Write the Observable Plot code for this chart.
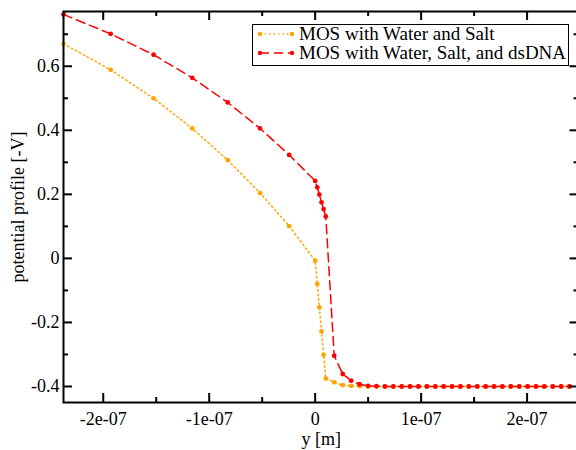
<!DOCTYPE html>
<html>
<head>
<meta charset="utf-8">
<script src="https://cdn.jsdelivr.net/npm/d3@7"></script>
<script src="https://cdn.jsdelivr.net/npm/@observablehq/plot@0.6"></script>
<style>
  html, body { margin: 0; padding: 0; background: white; }
  #wrap { position: relative; width: 576px; height: 450px; overflow: hidden; font-family: "Liberation Serif", serif; }
  #legend { position: absolute; left: 252px; top: 24px; width: 315px; height: 40px; border: 1.5px solid black; background: white; box-sizing: content-box; }
  .row { position: absolute; left: 0; height: 20px; display: flex; align-items: center; font-size: 19px; white-space: nowrap; color: black; }
  .row svg { margin-left: 4px; margin-right: 4px; }
</style>
</head>
<body>
<div id="wrap"><div id="legend"></div></div>
<script>
// Mesh (y [m])
const yPos = [-2.375e-7, -1.93e-7, -1.525e-7, -1.16e-7, -0.825e-7, -0.52e-7, -0.245e-7, 0,
  0.02e-7, 0.04e-7, 0.06e-7, 0.08e-7, 0.10e-7,
  0.18e-7, 0.26e-7, 0.34e-7, 0.42e-7,
  0.500e-7, 0.579e-7, 0.658e-7, 0.738e-7, 0.817e-7, 0.896e-7, 0.975e-7, 1.054e-7, 1.134e-7, 1.213e-7,
  1.292e-7, 1.371e-7, 1.450e-7, 1.530e-7, 1.609e-7, 1.688e-7, 1.767e-7, 1.846e-7, 1.926e-7, 2.005e-7,
  2.084e-7, 2.163e-7, 2.242e-7, 2.322e-7, 2.400e-7];

// MOS with Water and Salt
const saltPotential = [0.670, 0.589, 0.500, 0.406, 0.307, 0.204, 0.101, -0.007,
  -0.080, -0.153, -0.228, -0.301, -0.375,
  -0.387, -0.396, -0.398, -0.399,
  -0.400, -0.400, -0.400, -0.400, -0.400, -0.400, -0.400, -0.400, -0.400, -0.400,
  -0.400, -0.400, -0.400, -0.400, -0.400, -0.400, -0.400, -0.400, -0.400, -0.400,
  -0.400, -0.400, -0.400, -0.400, -0.400];

// MOS with Water, Salt, and dsDNA
const dnaPotential = [0.762, 0.701, 0.636, 0.564, 0.487, 0.406, 0.323, 0.242,
  0.222, 0.199, 0.175, 0.154, 0.131,
  -0.304, -0.361, -0.382, -0.393,
  -0.398, -0.399, -0.400, -0.400, -0.400, -0.400, -0.400, -0.400, -0.400, -0.400,
  -0.400, -0.400, -0.400, -0.400, -0.400, -0.400, -0.400, -0.400, -0.400, -0.400,
  -0.400, -0.400, -0.400, -0.400, -0.400];

const seriesNames = ["MOS with Water and Salt", "MOS with Water, Salt, and dsDNA"];
const seriesColors = ["#ffa500", "#ff0000"];
const seriesDash = ["1.5,3", "9,5"];

const xTicks = [-2e-7, -1e-7, 0, 1e-7, 2e-7];
const xTickLabels = ["-2e-07", "-1e-07", "0", "1e-07", "2e-07"];
const xMinor = [-1.5e-7, -0.5e-7, 0.5e-7, 1.5e-7];
const yTicks = [-0.4, -0.2, 0, 0.2, 0.4, 0.6];
const yTickLabels = ["-0.4", "-0.2", "0", "0.2", "0.4", "0.6"];
const yMinor = [-0.3, -0.1, 0.1, 0.3, 0.5, 0.7];

const salt = yPos.map((x, i) => ({x, v: saltPotential[i]}));
const dna = yPos.map((x, i) => ({x, v: dnaPotential[i]}));

const W = 576, H = 450, mL = 63, mR = -2.5, mT = 11, mB = 48;
const pw = W - mL - mR, ph = H - mT - mB;

const chart = Plot.plot({
  width: W, height: H,
  marginLeft: mL, marginRight: mR, marginTop: mT, marginBottom: mB,
  style: {fontFamily: "Liberation Serif", fontSize: "18px", background: "white", color: "black", overflow: "visible"},
  x: {domain: [-2.375e-7, 2.49e-7]},
  y: {domain: [-0.45, 0.771]},
  marks: [
    Plot.line(salt, {x: "x", y: "v", stroke: seriesColors[0], strokeWidth: 1.5, strokeDasharray: seriesDash[0]}),
    Plot.dot(salt, {x: "x", y: "v", fill: seriesColors[0], r: 2.4}),
    Plot.line(dna, {x: "x", y: "v", stroke: seriesColors[1], strokeWidth: 1.5, strokeDasharray: seriesDash[1]}),
    Plot.dot(dna, {x: "x", y: "v", fill: seriesColors[1], r: 2.4}),
    // inward ticks
    Plot.tickX(xTicks, {x: d => d, insetTop: ph - 9, stroke: "black", strokeWidth: 2}),
    Plot.tickX(xTicks, {x: d => d, insetBottom: ph - 9, stroke: "black", strokeWidth: 2}),
    Plot.tickX(xMinor, {x: d => d, insetTop: ph - 5, stroke: "black", strokeWidth: 2}),
    Plot.tickX(xMinor, {x: d => d, insetBottom: ph - 5, stroke: "black", strokeWidth: 2}),
    Plot.tickY(yTicks, {y: d => d, insetRight: pw - 9, stroke: "black", strokeWidth: 2}),
    Plot.tickY(yTicks, {y: d => d, insetLeft: pw - 9, stroke: "black", strokeWidth: 2}),
    Plot.tickY(yMinor, {y: d => d, insetRight: pw - 5, stroke: "black", strokeWidth: 2}),
    Plot.tickY(yMinor, {y: d => d, insetLeft: pw - 5, stroke: "black", strokeWidth: 2}),
    Plot.axisX(xTicks, {tickSize: 0, tickPadding: 10, tickFormat: d => xTickLabels[xTicks.indexOf(d)],
      label: "y [m]", labelAnchor: "center", labelOffset: 42, labelArrow: "none", fontSize: 18}),
    Plot.axisY(yTicks, {tickSize: 0, tickPadding: 4, tickFormat: d => yTickLabels[yTicks.indexOf(d)],
      label: "potential profile [-V]", labelAnchor: "center", labelOffset: 52, labelArrow: "none", fontSize: 18}),
    Plot.frame({stroke: "black", strokeWidth: 2})
  ]
});
document.getElementById("wrap").prepend(chart);

// Legend
const legend = document.getElementById("legend");
seriesNames.forEach((name, i) => {
  const row = document.createElement("div");
  row.className = "row";
  row.style.top = (i * 19 - 1) + "px";
  row.innerHTML = `<svg width="38" height="10"><line x1="3" y1="5" x2="35" y2="5" stroke="${seriesColors[i]}" stroke-width="1.5" stroke-dasharray="${seriesDash[i]}"/><circle cx="3" cy="5" r="2.2" fill="${seriesColors[i]}"/><circle cx="35" cy="5" r="2.2" fill="${seriesColors[i]}"/></svg><span>${name}</span>`;
  legend.appendChild(row);
});
</script>
</body>
</html>
